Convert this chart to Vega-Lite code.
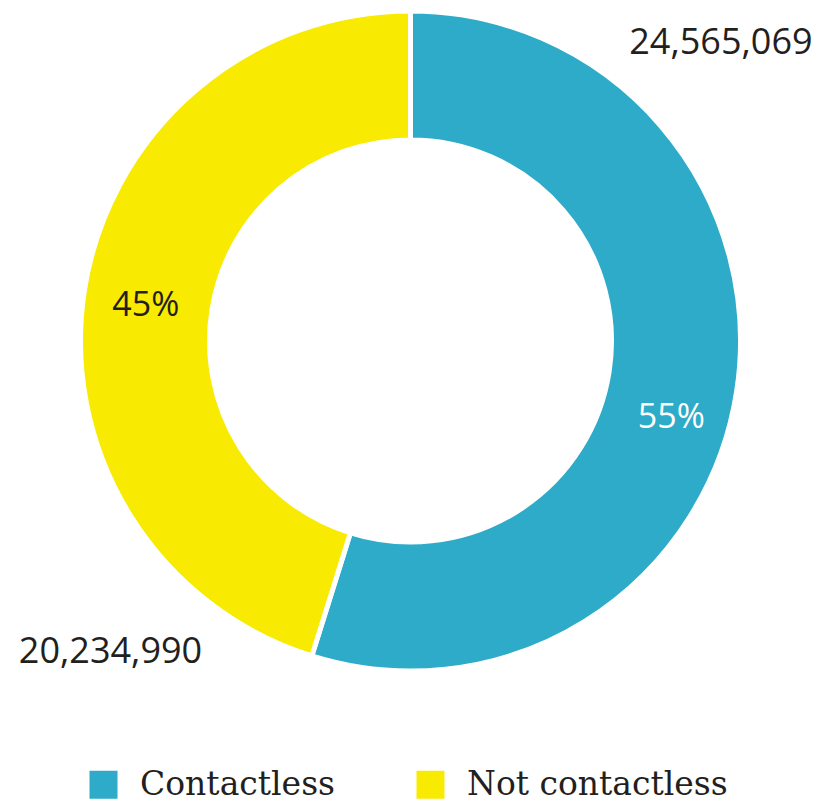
{
  "$schema": "https://vega.github.io/schema/vega-lite/v6.json",
  "width": 821,
  "height": 682,
  "padding": 0,
  "autosize": {"type": "pad"},
  "background": "white",
  "view": {"stroke": null},
  "data": {
    "values": [
      {"type": "Contactless", "value": 24565069, "pct": "55%"},
      {"type": "Not contactless", "value": 20234990, "pct": "45%"}
    ]
  },
  "encoding": {
    "theta": {"field": "value", "type": "quantitative", "stack": true},
    "order": {"field": "type", "type": "nominal", "sort": "ascending"}
  },
  "layer": [
    {
      "mark": {"type": "arc", "outerRadius": 330, "innerRadius": 201, "stroke": "white", "strokeWidth": 5},
      "encoding": {
        "color": {
          "field": "type",
          "type": "nominal",
          "scale": {"domain": ["Contactless", "Not contactless"], "range": ["#2DABC8", "#F8EA00"]},
          "legend": {
            "title": null,
            "orient": "none",
            "legendX": 87,
            "legendY": 768,
            "direction": "horizontal",
            "symbolType": "square",
            "symbolSize": 784,
            "symbolStrokeWidth": 0,
            "labelFont": "DejaVu Serif",
            "labelFontSize": 33,
            "labelLimit": 0,
            "labelColor": "#231F20",
            "labelOffset": 20,
            "columnPadding": 78,
            "padding": 0
          }
        }
      }
    },
    {
      "mark": {"type": "text", "radius": 272, "thetaOffset": 0.136, "font": "Open Sans", "fontSize": 34, "fill": "white"},
      "encoding": {
        "text": {"condition": {"test": "datum.type === 'Contactless'", "field": "pct"}, "value": ""}
      }
    },
    {
      "mark": {"type": "text", "radius": 267, "thetaOffset": -0.02, "font": "Open Sans", "fontSize": 34, "fill": "#231F20"},
      "encoding": {
        "text": {"condition": {"test": "datum.type === 'Not contactless'", "field": "pct"}, "value": ""}
      }
    },
    {
      "mark": {"type": "text", "radius": 430, "thetaOffset": -0.916, "font": "Open Sans", "fontSize": 36, "fill": "#231F20"},
      "encoding": {
        "text": {"condition": {"test": "datum.type === 'Contactless'", "field": "value", "format": ",d"}, "value": ""}
      }
    },
    {
      "mark": {"type": "text", "radius": 432, "thetaOffset": -0.955, "font": "Open Sans", "fontSize": 36, "fill": "#231F20"},
      "encoding": {
        "text": {"condition": {"test": "datum.type === 'Not contactless'", "field": "value", "format": ",d"}, "value": ""}
      }
    }
  ]
}
